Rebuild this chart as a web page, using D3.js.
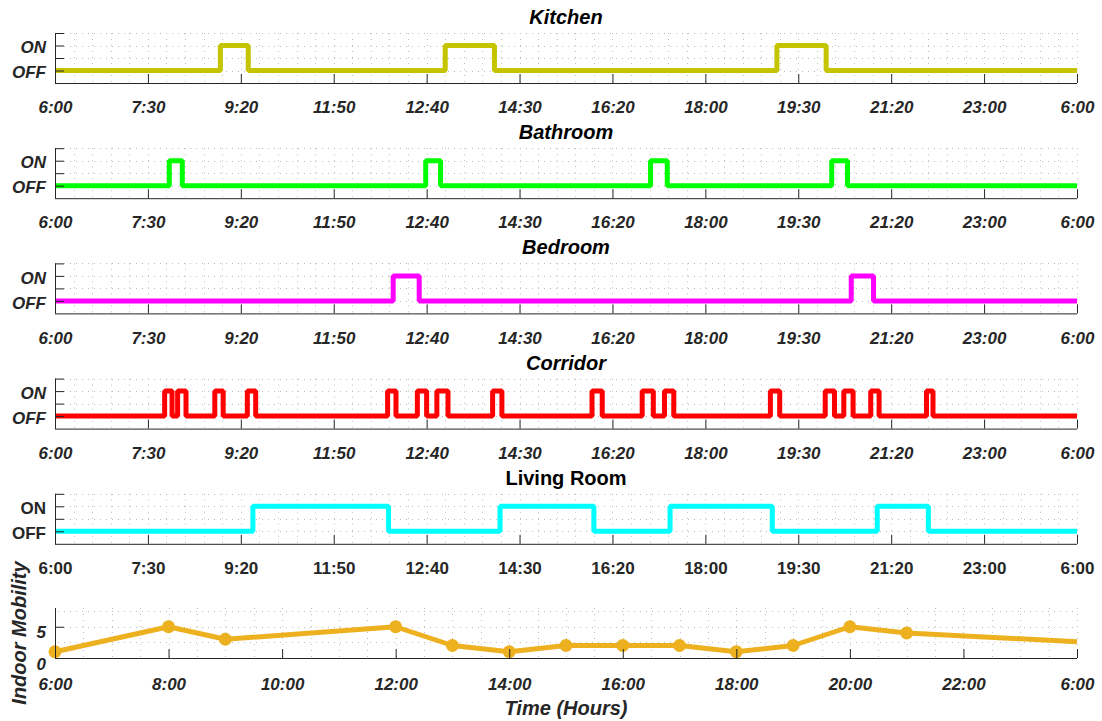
<!DOCTYPE html>
<html>
<head>
<meta charset="utf-8">
<script src="https://cdn.jsdelivr.net/npm/d3@7"></script>
<style>
  html, body { margin: 0; padding: 0; background: #fff; }
  svg { display: block; }
  text { font-family: "Liberation Sans", Arial, sans-serif; font-weight: bold; }
</style>
</head>
<body>
<svg id="chart" width="1102" height="721"></svg>
<script>
// ---- Sensor activity: ON intervals as [start, end] sample indices (0..1100) ----
const roomNames = ["Kitchen", "Bathroom", "Bedroom", "Corridor", "Living Room"];
const kitchenOn  = [[178, 208], [420, 473], [777, 830]];
const bathroomOn = [[123, 137], [399, 415], [641, 659], [836, 853]];
const bedroomOn  = [[364, 392], [857, 881]];
const corridorOn = [[118, 126], [132, 141], [172, 181], [207, 216], [358, 367], [390, 400],
                    [411, 423], [471, 481], [578, 589], [632, 644], [656, 666], [770, 780],
                    [829, 839], [849, 859], [878, 887], [938, 945]];
const livingOn   = [[213, 359], [479, 580], [662, 772], [885, 940]];
const sampleTicks = [0, 100, 200, 300, 400, 500, 600, 700, 800, 900, 1000, 1100];
const sampleTickLabels = ["6:00", "7:30", "9:20", "11:50", "12:40", "14:30", "16:20",
                          "18:00", "19:30", "21:20", "23:00", "6:00"];
const stateTicks = [0, 0.5, 1, 1.5];
const stateTickLabels = ["OFF", "", "ON", ""];

// ---- Indoor mobility per hour ----
const mobilityHours  = [6, 8, 9, 12, 13, 14, 15, 16, 17, 18, 19, 20, 21, 24];
const mobilityValues = [1, 5, 3, 5, 2, 1, 2, 2, 2, 1, 2, 5, 4, 2.6];
const hourTicks = [6, 8, 10, 12, 14, 16, 18, 20, 22, 24];
const hourTickLabels = ["6:00", "8:00", "10:00", "12:00", "14:00", "16:00", "18:00", "20:00", "22:00", "6:00"];
const mobilityTicks = [0, 5];

// ---- styling ----
const roomColors = ["#c4c400", "#00ff00", "#ff00ff", "#ff0000", "#00ffff"];
const roomItalic = [true, true, true, true, false];
const mobilityColor = "#edb120";
const axisColor = "#262626";
const gridColor = "#bdbdbd";

const left = 55, right = 1077, panelH = 50, panelStep = 115.2, firstTop = 33;
const tickLen = 9;

const svg = d3.select("#chart");
const x = d3.scaleLinear().domain([0, 1100]).range([left, right]);

// dotted minor grid
function drawGrid(g, xs, ys, xScale, yScale, top, bottom) {
  const grid = g.append("g").attr("stroke", gridColor).attr("stroke-width", 1)
    .attr("stroke-dasharray", "1 5");
  grid.selectAll(".gv").data(xs).join("line")
    .attr("x1", d => Math.round(xScale(d)) + 0.5).attr("x2", d => Math.round(xScale(d)) + 0.5)
    .attr("y1", top).attr("y2", bottom);
  grid.selectAll(".gh").data(ys).join("line")
    .attr("y1", d => Math.round(yScale(d)) + 0.5).attr("y2", d => Math.round(yScale(d)) + 0.5)
    .attr("x1", left + 3).attr("x2", right);
}

function styleAxis(sel, italic) {
  sel.select(".domain").remove();
  sel.selectAll(".tick line").attr("stroke", axisColor);
  sel.selectAll(".tick text").attr("fill", axisColor)
    .style("font-size", "17px")
    .style("font-style", italic ? "italic" : "normal");
}

const roomSeries = [kitchenOn, bathroomOn, bedroomOn, corridorOn, livingOn];

roomSeries.forEach((intervals, i) => {
  const top = firstTop + panelStep * i;
  const bottom = top + panelH;
  const y = d3.scaleLinear().domain([-0.5, 1.5]).range([bottom, top]);
  const g = svg.append("g");
  const fontStyle = roomItalic[i] ? "italic" : "normal";

  drawGrid(g, d3.range(20, 1101, 20), d3.range(0, 1.51, 0.5), x, y, top, bottom);

  // state transitions -> step line
  const pts = [{ s: 0, v: 0 }];
  intervals.forEach(([a, b]) => { pts.push({ s: a, v: 1 }); pts.push({ s: b, v: 0 }); });
  pts.push({ s: 1100, v: 0 });
  g.append("path").datum(pts)
    .attr("fill", "none").attr("stroke", roomColors[i]).attr("stroke-width", 5)
    .attr("stroke-linejoin", "bevel")
    .attr("d", d3.line().x(d => x(d.s)).y(d => y(d.v)).curve(d3.curveStepAfter));

  // axes
  const xa = g.append("g").attr("transform", `translate(0,${bottom})`)
    .call(d3.axisBottom(x).tickValues(sampleTicks).tickSize(-tickLen).tickPadding(14)
      .tickFormat((d, k) => sampleTickLabels[k]));
  styleAxis(xa, roomItalic[i]);
  xa.selectAll(".tick text").attr("dy", "0.95em");

  const ya = g.append("g").attr("transform", `translate(${left},0)`)
    .call(d3.axisLeft(y).tickValues(stateTicks).tickSize(-tickLen).tickPadding(9)
      .tickFormat((d, k) => stateTickLabels[k]));
  styleAxis(ya, roomItalic[i]);
  ya.selectAll(".tick text").attr("dy", "0.42em");

  g.append("line").attr("x1", left).attr("x2", right).attr("y1", bottom + 0.5).attr("y2", bottom + 0.5)
    .attr("stroke", axisColor);
  g.append("line").attr("x1", left + 0.5).attr("x2", left + 0.5).attr("y1", top).attr("y2", bottom)
    .attr("stroke", axisColor);

  g.append("text").attr("x", (left + right) / 2).attr("y", top - 9)
    .attr("text-anchor", "middle").style("font-size", "20px").style("font-style", fontStyle)
    .attr("fill", "#000").text(roomNames[i]);
});

// ---- Indoor mobility panel ----
{
  const top = firstTop + panelStep * 5 - 1;
  const bottom = top + panelH;
  const hx = d3.scaleLinear().domain([6, 24]).range([left, right]);
  const my = d3.scaleLinear().domain([0, 8]).range([bottom, top]);
  const g = svg.append("g");

  drawGrid(g, d3.range(6.5, 24.01, 0.5), [2.5, 5, 7.5], hx, my, top, bottom);

  const pts = mobilityHours.map((h, k) => ({ h, v: mobilityValues[k] }));
  g.append("path").datum(pts)
    .attr("fill", "none").attr("stroke", mobilityColor).attr("stroke-width", 5)
    .attr("stroke-linejoin", "round")
    .attr("d", d3.line().x(d => hx(d.h)).y(d => my(d.v)));
  // the closing point at the window edge carries no marker
  g.selectAll("circle").data(pts.slice(0, -1)).join("circle")
    .attr("cx", d => hx(d.h)).attr("cy", d => my(d.v)).attr("r", 6.5)
    .attr("fill", mobilityColor);

  const xa = g.append("g").attr("transform", `translate(0,${bottom})`)
    .call(d3.axisBottom(hx).tickValues(hourTicks).tickSize(-tickLen).tickPadding(16)
      .tickFormat((d, k) => hourTickLabels[k]));
  styleAxis(xa, true);
  xa.selectAll(".tick text").attr("dy", "0.95em");

  const ya = g.append("g").attr("transform", `translate(${left},0)`)
    .call(d3.axisLeft(my).tickValues(mobilityTicks).tickSize(-tickLen).tickPadding(9));
  styleAxis(ya, true);
  ya.selectAll(".tick text").attr("dy", "0.65em");

  g.append("line").attr("x1", left).attr("x2", right).attr("y1", bottom + 0.5).attr("y2", bottom + 0.5)
    .attr("stroke", axisColor);
  g.append("line").attr("x1", left + 0.5).attr("x2", left + 0.5).attr("y1", top).attr("y2", bottom)
    .attr("stroke", axisColor);

  g.append("text").attr("x", (left + right) / 2).attr("y", 715)
    .attr("text-anchor", "middle").style("font-size", "20px").style("font-style", "italic")
    .attr("fill", axisColor).text("Time (Hours)");
  g.append("text").attr("transform", `translate(26,${(top + bottom) / 2}) rotate(-90)`)
    .attr("text-anchor", "middle").style("font-size", "20px").style("font-style", "italic")
    .attr("fill", axisColor).text("Indoor Mobility");
}
</script>
</body>
</html>
